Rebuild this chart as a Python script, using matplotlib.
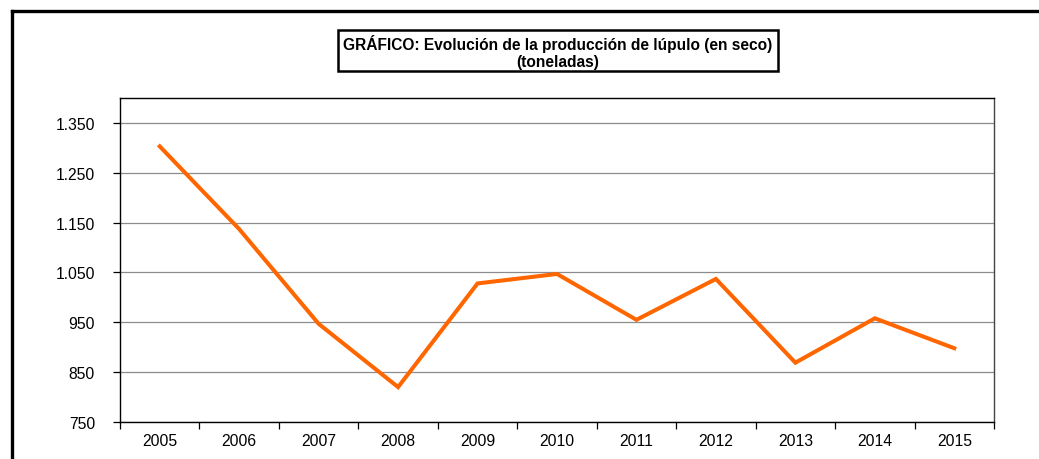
import matplotlib
matplotlib.use("Agg")
import matplotlib.pyplot as plt
from matplotlib.patches import Rectangle
from matplotlib.lines import Line2D
from matplotlib.ticker import FuncFormatter

years = ["2005", "2006", "2007", "2008", "2009", "2010",
         "2011", "2012", "2013", "2014", "2015"]
toneladas = [1303, 1137, 947, 820, 1028, 1047, 955, 1037, 869, 958, 898]
y_ticks = [750, 850, 950, 1050, 1150, 1250, 1350]

plt.rcParams["font.family"] = ["Liberation Sans", "DejaVu Sans"]

W, H = 1039, 460
fig = plt.figure(figsize=(W / 100, H / 100), dpi=100)

# outer frame (only left and top edges are in view)
fig.add_artist(Line2D([12 / W, 12 / W], [0, 1 - 12 / H], transform=fig.transFigure,
                      color="black", lw=2.4, solid_capstyle="projecting"))
fig.add_artist(Line2D([12 / W, 1], [1 - 12 / H, 1 - 12 / H], transform=fig.transFigure,
                      color="black", lw=2.4, solid_capstyle="projecting"))

# title box
bx0, bx1, by0, by1 = 338, 778, 31, 72
fig.add_artist(Rectangle((bx0 / W, 1 - by1 / H), (bx1 - bx0) / W, (by1 - by0) / H,
                         transform=fig.transFigure, fill=False, ec="black", lw=1.8))
fig.text((bx0 + bx1) / 2 / W, 1 - 44 / H,
         "GRÁFICO: Evolución de la producción de lúpulo (en seco)",
         ha="center", va="center", fontsize=11.2, fontweight="bold")
fig.text((bx0 + bx1) / 2 / W, 1 - 62 / H, "(toneladas)",
         ha="center", va="center", fontsize=11.2, fontweight="bold")

ax = fig.add_axes([120 / W, 1 - 423 / H, (994 - 120) / W, (423 - 99) / H])
x = list(range(len(years)))
ax.plot(x, toneladas, color="#FF6600", lw=2.9, solid_joinstyle="miter", zorder=3)

ax.set_xlim(-0.5, len(years) - 0.5)
ax.set_ylim(750, 1400)
ax.set_yticks(y_ticks)
ax.yaxis.set_major_formatter(FuncFormatter(lambda v, p: f"{int(v):,}".replace(",", ".")))
ax.grid(axis="y", color="#8c8c8c", lw=0.9)
ax.set_axisbelow(True)

ax.set_xticks(x)
ax.set_xticklabels(years)
ax.set_xticks([i - 0.5 for i in range(len(years) + 1)], minor=True)
ax.tick_params(axis="x", which="major", length=0, pad=8, labelsize=11.3)
ax.tick_params(axis="x", which="minor", length=5, width=0.9, direction="out")
ax.tick_params(axis="y", length=5, width=0.9, pad=13, labelsize=11.3)

for s in ax.spines.values():
    s.set_linewidth(1.0)
    s.set_color("black")
ax.spines["right"].set_color("#444444")

fig.savefig("out.png", dpi=100, facecolor="white")
